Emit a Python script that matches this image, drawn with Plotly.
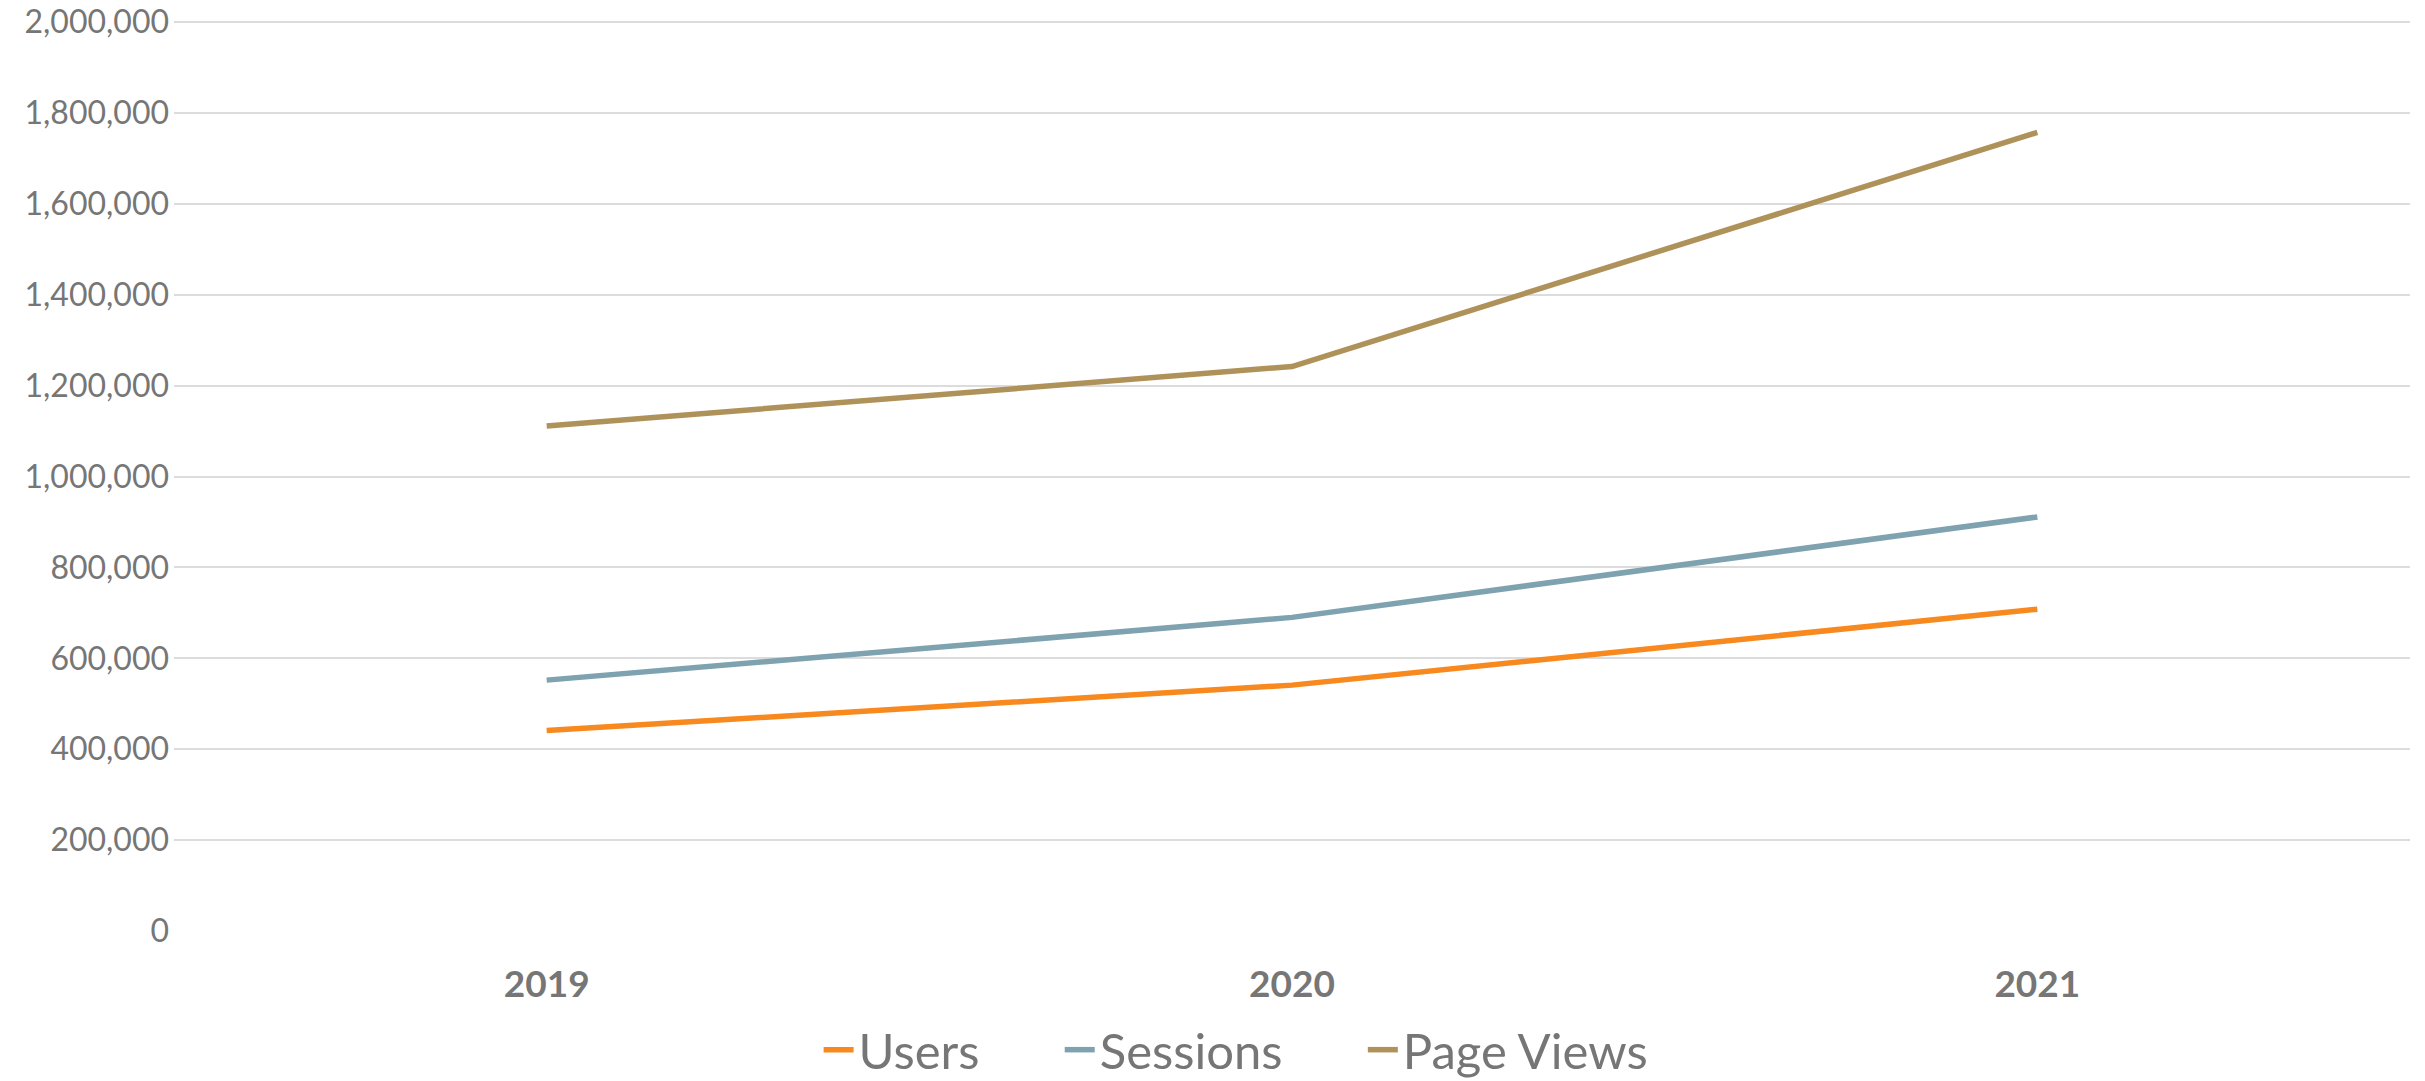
import plotly.graph_objects as go

years = ["2019", "2020", "2021"]
users = [441000, 541000, 708000]
sessions = [552000, 690000, 911000]
page_views = [1111000, 1242000, 1757000]

series_names = ["Users", "Sessions", "Page Views"]
series_colors = ["#F7891F", "#7EA2AF", "#AF9259"]
y_ticks = list(range(0, 2000001, 200000))

TEXT = "#767676"
GRID = "#DCDCDC"
NB = "\u00a0" * 6

fig = go.Figure()
for i, (name, vals, col) in enumerate(zip(series_names, [users, sessions, page_views], series_colors)):
    label = name + (NB if i < len(series_names) - 1 else "")
    fig.add_trace(go.Scatter(
        x=years, y=vals, name=label, mode="lines",
        line=dict(color=col, width=5.5),
    ))

fig.update_layout(
    width=2425, height=1081,
    margin=dict(l=174, r=15, t=17, b=150, autoexpand=False),
    paper_bgcolor="white", plot_bgcolor="white",
    font=dict(family="Lato", color=TEXT),
    showlegend=True,
    legend=dict(
        orientation="h", x=0.475, xanchor="center", y=-0.130, yanchor="middle",
        font=dict(family="Lato", size=49, color=TEXT),
        itemwidth=30, bgcolor="rgba(0,0,0,0)",
    ),
)
fig.update_xaxes(
    type="category", range=[-0.5, 2.5],
    showgrid=False, showline=False, zeroline=False,
    tickfont=dict(family="Lato", size=37, color=TEXT, weight="bold"),
    ticks="", ticklabelstandoff=28,
)
fig.update_yaxes(
    range=[0, 2011000], tickvals=y_ticks, tickformat=",",
    showgrid=True, gridcolor=GRID, gridwidth=1.5,
    zeroline=False, showline=False, ticks="",
    tickfont=dict(family="Lato", size=32, color=TEXT),
    ticklabelstandoff=4, ticklabeloverflow="allow",
)

fig.write_html("out.html")
